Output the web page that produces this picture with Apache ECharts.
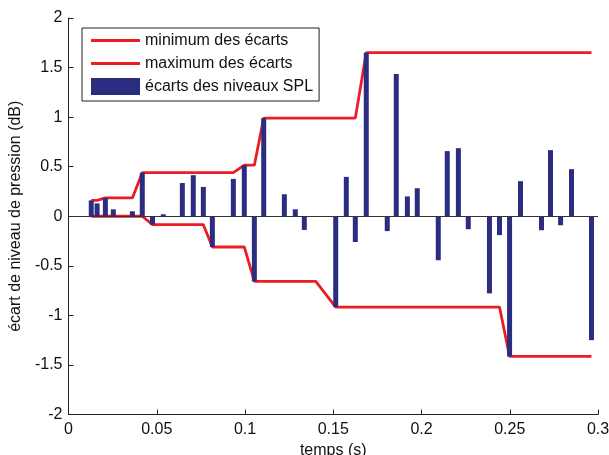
<!DOCTYPE html>
<html>
<head>
<meta charset="utf-8">
<script src="https://cdn.jsdelivr.net/npm/echarts@6/dist/echarts.min.js"></script>
<style>
html,body{margin:0;padding:0;background:#fff;}
#c{width:609px;height:455px;}
</style>
</head>
<body>
<div id="c"></div>
<script>
// time (s) of each sample
var times = [0.0129, 0.0162, 0.0209, 0.0254, 0.0362, 0.0418, 0.0476, 0.0537, 0.0645, 0.0707,
             0.0764, 0.0815, 0.0934, 0.0996, 0.1053, 0.1106, 0.1223, 0.1285, 0.1336, 0.1401,
             0.1514, 0.1574, 0.1625, 0.1687, 0.1806, 0.1857, 0.1920, 0.1976, 0.2095, 0.2146,
             0.2209, 0.2265, 0.2385, 0.2442, 0.2499, 0.2561, 0.2680, 0.2731, 0.2788, 0.2850,
             0.2963];
// SPL level deviations (dB)
var ecarts = [0.16, 0.13, 0.185, 0.07, 0.05, 0.44, -0.085, 0.02, 0.335, 0.414,
              0.296, -0.31, 0.377, 0.515, -0.657, 0.99, 0.222, 0.07, -0.138, 0,
              -0.916, 0.397, -0.26, 1.65, -0.15, 1.434, 0.20, 0.283, -0.444, 0.657,
              0.687, -0.131, -0.778, -0.19, -1.414, 0.354, -0.141, 0.667, -0.091, 0.475,
              -1.25];
// envelope curves
var minimum = [0, 0, 0, 0, 0, 0, -0.085, -0.085, -0.085, -0.085,
               -0.085, -0.31, -0.31, -0.31, -0.657, -0.657, -0.657, -0.657, -0.657, -0.657,
               -0.916, -0.916, -0.916, -0.916, -0.916, -0.916, -0.916, -0.916, -0.916, -0.916,
               -0.916, -0.916, -0.916, -0.916, -1.414, -1.414, -1.414, -1.414, -1.414, -1.414,
               -1.414];
var maximum = [0.16, 0.16, 0.185, 0.185, 0.185, 0.44, 0.44, 0.44, 0.44, 0.44,
               0.44, 0.44, 0.44, 0.515, 0.515, 0.99, 0.99, 0.99, 0.99, 0.99,
               0.99, 0.99, 0.99, 1.65, 1.65, 1.65, 1.65, 1.65, 1.65, 1.65,
               1.65, 1.65, 1.65, 1.65, 1.65, 1.65, 1.65, 1.65, 1.65, 1.65,
               1.65];
var xTicks = [0, 0.05, 0.1, 0.15, 0.2, 0.25, 0.3];
var yTicks = [-2, -1.5, -1, -0.5, 0, 0.5, 1, 1.5, 2];
var names = ['minimum des écarts', 'maximum des écarts', 'écarts des niveaux SPL'];

function pairs(xs, ys){ return xs.map(function(x,i){ return [x, ys[i]]; }); }

var FONT = '"Liberation Sans", Arial, Helvetica, sans-serif';
var RED = '#ec1c24';
var BLUE = '#2b2e80';
// thin horizontal bar inside a 49x17 box (legend line icon)
var LINE_ICON = 'path://M0,0 M0,7 L49,7 L49,10 L0,10 Z M49,17';

var chart = echarts.init(document.getElementById('c'), null, {renderer:'canvas'});
chart.setOption({
  animation: false,
  backgroundColor: '#ffffff',
  textStyle: {fontFamily: FONT},
  grid: {left: 68.5, right: 11, top: 18, bottom: 40.5, containLabel: false, outerBoundsMode: 'none'},
  legend: {
    orient: 'vertical',
    left: 82, top: 28,
    padding: [4, 6, 6, 9],
    itemWidth: 49, itemHeight: 17, itemGap: 6,
    borderColor: '#222', borderWidth: 1,
    backgroundColor: '#fff',
    textStyle: {fontFamily: FONT, fontSize: 16, color: '#111'},
    data: [
      {name: names[0], icon: LINE_ICON},
      {name: names[1], icon: LINE_ICON},
      {name: names[2], icon: 'rect'}
    ]
  },
  xAxis: {
    type: 'value', min: xTicks[0], max: xTicks[xTicks.length-1], interval: 0.05,
    name: 'temps (s)', nameLocation: 'middle', nameGap: 23,
    nameTextStyle: {fontFamily: FONT, fontSize: 16, color: '#111'},
    axisLine: {onZero: false, lineStyle: {color: '#222', width: 1}},
    axisTick: {inside: true, length: 5, lineStyle: {color: '#222'}},
    axisLabel: {fontFamily: FONT, fontSize: 16, color: '#111', margin: 7,
      formatter: function(v){ return String(+v.toFixed(2)); }},
    splitLine: {show: false}
  },
  yAxis: {
    type: 'value', min: yTicks[0], max: yTicks[yTicks.length-1], interval: 0.5,
    name: 'écart de niveau de pression (dB)', nameLocation: 'middle', nameGap: 39,
    nameTextStyle: {fontFamily: FONT, fontSize: 16, color: '#111'},
    axisLine: {show: true, onZero: false, lineStyle: {color: '#222', width: 1}},
    axisTick: {show: true, inside: true, length: 5, lineStyle: {color: '#222'}},
    axisLabel: {fontFamily: FONT, fontSize: 16, color: '#111', margin: 6,
      formatter: function(v){ return String(+v.toFixed(2)); }},
    splitLine: {show: false}
  },
  series: [
    {
      name: names[0], type: 'line', data: pairs(times, minimum),
      symbol: 'none', showSymbol: false, z: 2,
      lineStyle: {color: RED, width: 2.8}, itemStyle: {color: RED}
    },
    {
      name: names[1], type: 'line', data: pairs(times, maximum),
      symbol: 'none', showSymbol: false, z: 2,
      lineStyle: {color: RED, width: 2.8}, itemStyle: {color: RED}
    },
    {
      name: names[2], type: 'bar', data: pairs(times, ecarts),
      barWidth: 5, z: 3,
      itemStyle: {color: BLUE},
      markLine: {
        silent: true, symbol: 'none', label: {show: false},
        lineStyle: {color: '#333', width: 1, type: 'solid'},
        data: [{yAxis: 0}]
      }
    }
  ]
});
</script>
</body>
</html>
